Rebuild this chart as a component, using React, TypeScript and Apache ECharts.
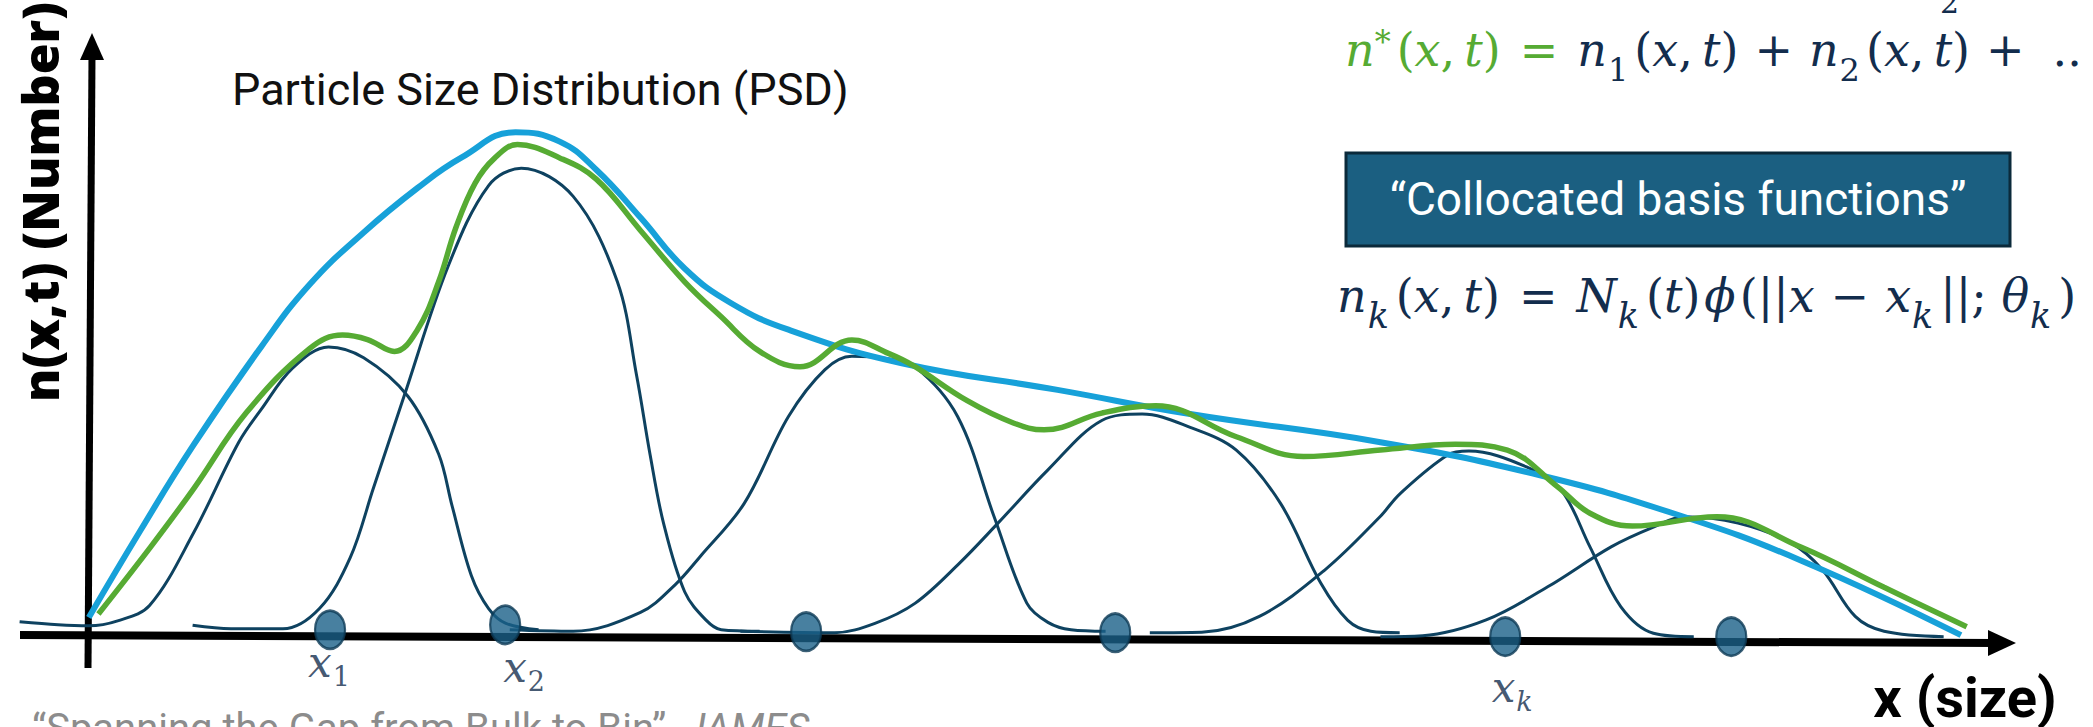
import React, { useEffect, useRef } from "react";
import * as echarts from "echarts";

// ---- data (x = particle size units, y = number units) ----
const psdEnvelope: [number, number][] = [
  [0.1, 2.0], [2.8, 19.7], [5.56, 37.0], [9.1, 57.0], [11.6, 69.5], [14.4, 80.0], [17.2, 89.0],
  [19.5, 95.2], [22.3, 100.3], [24.6, 98.4], [26.5, 92.7], [28.8, 83.0], [31.1, 72.7], [33.5, 65.7],
  [36.5, 60.3], [42.4, 53.5], [50.5, 48.1], [57.4, 43.2], [67.3, 37.5], [75.6, 30.8], [82.6, 23.0],
  [89.2, 13.5], [97.5, -1.6],
];

const approximation: [number, number][] = [
  [0.6, 2.7], [3.3, 16.2], [5.56, 28.1], [8.3, 43.5], [11.6, 56.5], [13.3, 59.2], [14.6, 58.3],
  [16.0, 55.9], [17.2, 60.3], [18.3, 70.0], [19.2, 81.0], [20.2, 90.0], [21.2, 95.0], [22.4, 97.8],
  [24.6, 95.1], [26.5, 90.8], [28.8, 80.4], [31.1, 70.0], [33.0, 62.9], [35.0, 55.9], [37.1, 52.8],
  [39.8, 58.2], [41.7, 55.5], [43.0, 53.0], [45.8, 45.9], [48.2, 41.4], [49.8, 40.0], [52.8, 43.4],
  [55.6, 44.9], [59.8, 38.6], [63.3, 34.6], [67.3, 35.9], [71.2, 37.1], [73.9, 35.9], [76.5, 28.5],
  [78.2, 23.1], [80.4, 20.5], [84.8, 22.4], [89.2, 16.2], [93.5, 8.1], [97.8, 0.1],
];

const basis1: [number, number][] = [
  [-3.5, 1.1], [-1.5, 0.5], [0.1, 0.3], [1.6, 1.3], [3.26, 4.4], [5.56, 19.2], [7.9, 37.5], [9.06, 44.1],
  [10.7, 52.5], [12.57, 56.8], [14.4, 54.6], [16.7, 46.8], [18.3, 35.1], [19.0, 24.6], [20.0, 10.5],
  [20.9, 3.8], [21.8, 0.8], [23.5, -0.5],
];
const basis2: [number, number][] = [
  [5.5, 0.4], [7.5, -0.3], [10.2, -0.3], [12.1, 3.8], [13.7, 14.1], [14.9, 28.1], [16.5, 46.8],
  [18.8, 73.2], [20.9, 89.5], [22.6, 93.0], [25.3, 87.3], [27.6, 70.0], [28.6, 51.0], [29.3, 35.0],
  [30.0, 21.1], [31.1, 7.2], [32.2, 1.5], [33.0, -0.5], [35.0, -0.8],
];
const basis3: [number, number][] = [
  [22.0, -0.5], [25.3, -0.8], [28.8, 3.0], [30.6, 8.6], [31.9, 14.3], [34.2, 25.1], [36.5, 42.7],
  [38.4, 52.2], [39.8, 54.9], [41.5, 54.5], [43.1, 52.7], [45.3, 42.7], [47.2, 22.4], [48.9, 4.9],
  [50.0, 1.0], [51.2, -0.5], [53.0, -0.8],
];
const basis4: [number, number][] = [
  [34.0, -0.8], [38.9, -1.1], [41.0, 0.8], [43.1, 4.9], [45.4, 13.0], [47.4, 21.1], [50.0, 31.9],
  [52.8, 41.9], [54.9, 43.2], [57.4, 40.5], [59.8, 35.9], [62.1, 25.1], [64.2, 8.9], [65.6, 1.4],
  [66.8, -0.8], [68.3, -1.1],
];
const basis5: [number, number][] = [
  [55.3, -1.1], [58.0, -1.0], [61.0, 2.2], [64.4, 11.6], [67.3, 22.5], [68.3, 27.0], [70.8, 34.9],
  [71.9, 35.7], [74.9, 32.5], [76.7, 27.8], [78.2, 16.3], [79.8, 4.2], [81.5, -1.2], [83.6, -1.9],
];
const basis6: [number, number][] = [
  [67.3, -1.9], [69.5, -1.7], [72.8, 1.5], [76.0, 8.2], [79.3, 16.3], [81.5, 20.3], [83.1, 22.4],
  [85.9, 21.1], [88.7, 17.0], [90.3, 11.6], [92.0, 2.2], [93.5, -0.8], [96.6, -1.9],
];
const basisSet = [basis1, basis2, basis3, basis4, basis5, basis6];

const collocationPoints: [number, number][] = [
  [12.65, -0.5], [21.76, 0.5], [37.42, -0.9], [53.5, -1.1], [73.79, -1.9], [85.55, -1.9],
];
const pointSubscripts = ["1", "2", "", "", "k", ""];

// ---- styles ----
const BLUE = "#17a1d9";
const GREEN = "#56ab33";
const NAVY_LINE = "#0e4260";
const DOT = "#1a6088";
const DOT_BORDER = "#0d3a55";
const EQ_NAVY = "#132d4d";
const BOX = "#1b5f81";
const BOX_BORDER = "#0b2a3b";
const SERIF = "DejaVu Serif";
const TS = "\u2009";

const labelOffsets: Record<string, [number, number]> = {
  "1": [-1, 33],
  "2": [19, 43],
  k: [7, 51],
};

function eqRich(fs: number, sfs: number, subPadR: number) {
  const H = 56;
  const base = (fill: string, italic: boolean, pad?: number[]) => ({
    fill, fontFamily: SERIF, fontSize: fs, fontStyle: italic ? "italic" : "normal",
    lineHeight: H, verticalAlign: "middle", padding: pad || [0, 0, 0, 0],
  });
  const sub = (fill: string, italic: boolean) => ({
    fill, fontFamily: SERIF, fontSize: sfs, fontStyle: italic ? "italic" : "normal",
    lineHeight: 16, padding: [H - 16, subPadR, 0, 1], verticalAlign: "middle",
  });
  const op = (fill: string, l: number, r: number) => ({
    fill, fontFamily: SERIF, fontSize: fs, lineHeight: H, padding: [0, r, 0, l], verticalAlign: "middle",
  });
  return {
    gv: base(GREEN, true), gp: base(GREEN, false),
    gsp: { fill: GREEN, fontFamily: SERIF, fontSize: 32, lineHeight: 40, padding: [0, 6, 16, 0], verticalAlign: "middle" },
    geq: op(GREEN, 19, 19),
    nv: base(EQ_NAVY, true), np: base(EQ_NAVY, false),
    nphi: base(EQ_NAVY, true, [0, 4, 0, 4]),
    nsb: sub(EQ_NAVY, false), nsi: sub(EQ_NAVY, true),
    npl: op(EQ_NAVY, 16, 16), nplEnd: op(EQ_NAVY, 16, 28),
    neq: op(EQ_NAVY, 19, 19), nmi: op(EQ_NAVY, 16, 16),
  };
}

function buildOption() {
  const lineSeries = basisSet.map((d, i) => ({
    type: "line", name: "basis " + (i + 1), data: d, smooth: 0.35, symbol: "none", silent: true,
    lineStyle: { color: NAVY_LINE, width: 3 }, z: 2,
  }));

  const scatterData = collocationPoints.map((p, i) => {
    const s = pointSubscripts[i];
    if (!s) return { value: p };
    return {
      value: p,
      label: {
        show: true, position: "inside", offset: labelOffsets[s],
        formatter: "{x|x}{" + (s === "k" ? "si" : "s") + "|" + s + "}",
        rich: {
          x: { color: EQ_NAVY, fontFamily: SERIF, fontStyle: "italic", fontSize: 42, lineHeight: 40, verticalAlign: "middle" },
          s: { color: EQ_NAVY, fontFamily: SERIF, fontSize: 27, lineHeight: 12, padding: [28, 0, 0, 1], verticalAlign: "middle" },
          si: { color: EQ_NAVY, fontFamily: SERIF, fontStyle: "italic", fontSize: 27, lineHeight: 12, padding: [28, 0, 0, 1], verticalAlign: "middle" },
        },
      },
    };
  });

  const eq1 =
    "{gv|n}{gsp|*}{gp|(}{gv|x}{gp|," + TS + "}{gv|t}{gp|)}{geq|=}" +
    "{nv|n}{nsb|1}{np|(}{nv|x}{np|," + TS + "}{nv|t}{np|)}{npl|+}" +
    "{nv|n}{nsb|2}{np|(}{nv|x}{np|," + TS + "}{nv|t}{np|)}{nplEnd|+}{np|..}";
  const eq2 =
    "{nv|n}{nsi|k}{np|(}{nv|x}{np|," + TS + "}{nv|t}{np|)}{neq|=}" +
    "{nv|N}{nsi|k}{np|(}{nv|t}{np|)}{nphi|ϕ}{np|(||}{nv|x}{nmi|−}{nv|x}{nsi|k}{np|||; }{nv|θ}{nsi|k}{np|)}";

  return {
    animation: false,
    backgroundColor: "#ffffff",
    grid: { left: 10, top: 35, width: 1999, height: 691 },
    xAxis: { type: "value", min: -4, max: 100, show: false },
    yAxis: { type: "value", min: -20, max: 120, show: false },
    series: [
      ...lineSeries,
      {
        type: "line", name: "PSD", data: psdEnvelope, smooth: 0.45, symbol: "none", silent: true,
        lineStyle: { color: BLUE, width: 6 }, z: 3,
      },
      {
        type: "line", name: "n*", data: approximation, smooth: 0.4, symbol: "none", silent: true,
        lineStyle: { color: GREEN, width: 5.5 }, z: 4,
      },
      {
        type: "scatter", name: "collocation points", data: scatterData, symbol: "circle",
        symbolSize: [30, 38], silent: true, z: 6,
        itemStyle: { color: DOT, borderColor: DOT_BORDER, borderWidth: 2.5 },
      },
    ],
    graphic: [
      // axes
      { type: "line", z: 1, shape: { x1: 20, y1: 635, x2: 1995, y2: 643 }, style: { stroke: "#000", lineWidth: 8 } },
      { type: "polygon", z: 1, shape: { points: [[1988, 630], [2016, 643], [1988, 656]] }, style: { fill: "#000" } },
      { type: "line", z: 1, shape: { x1: 88, y1: 668, x2: 92, y2: 56 }, style: { stroke: "#000", lineWidth: 7 } },
      { type: "polygon", z: 1, shape: { points: [[80, 60], [92, 33], [104, 60]] }, style: { fill: "#000" } },
      // axis titles
      {
        type: "text", z: 10, x: 40, y: 202, rotation: Math.PI / 2,
        style: { text: "n(x,t) (Number)", fontFamily: "Open Sans", fontWeight: 800, fontSize: 50, fill: "#000", align: "center", verticalAlign: "middle" },
      },
      {
        type: "text", z: 10, x: 1965, y: 698,
        style: { text: "x (size)", fontFamily: "Roboto", fontWeight: "bold", fontSize: 56, fill: "#000", align: "center", verticalAlign: "middle" },
      },
      // title
      {
        type: "text", z: 10, x: 232, y: 89,
        style: { text: "Particle Size Distribution (PSD)", fontFamily: "Roboto", fontSize: 45, fill: "#111", align: "left", verticalAlign: "middle" },
      },
      // partial line cut at top
      {
        type: "text", z: 10, x: 1940, y: 2,
        style: { text: "2", fontFamily: SERIF, fontSize: 30, fill: EQ_NAVY, align: "left", verticalAlign: "middle" },
      },
      // equation 1
      {
        type: "text", z: 10, x: 1345, y: 22,
        style: { text: eq1, rich: eqRich(46, 32, 6), align: "left", verticalAlign: "top" },
      },
      // box
      {
        type: "rect", z: 9, shape: { x: 1346, y: 153, width: 664, height: 93 },
        style: { fill: BOX, stroke: BOX_BORDER, lineWidth: 3 },
      },
      {
        type: "text", z: 10, x: 1678, y: 199,
        style: { text: "“Collocated basis functions”", fontFamily: "Roboto", fontSize: 46, fill: "#ffffff", align: "center", verticalAlign: "middle" },
      },
      // equation 2
      {
        type: "text", z: 10, x: 1337, y: 268,
        style: { text: eq2, rich: eqRich(46, 35, 7), align: "left", verticalAlign: "top" },
      },
      // citation
      {
        type: "text", z: 10, x: 32, y: 728,
        style: {
          text: "“Spanning the Gap from Bulk to Bin”, {i|JAMES}",
          fontFamily: "Roboto", fontSize: 40, fill: "#8c8c8c", align: "left", verticalAlign: "middle",
          rich: { i: { fontFamily: "Roboto", fontSize: 40, fontStyle: "italic", fill: "#8c8c8c" } },
        },
      },
    ],
  };
}

export default function App() {
  const ref = useRef<HTMLDivElement>(null);
  useEffect(() => {
    if (!ref.current) return;
    const chart = echarts.init(ref.current, null, { renderer: "svg" });
    chart.setOption(buildOption() as any);
    return () => chart.dispose();
  }, []);
  return (
    <div
      ref={ref}
      style={{ position: "fixed", left: 0, top: 0, width: 2093, height: 727, background: "#ffffff" }}
    />
  );
}
